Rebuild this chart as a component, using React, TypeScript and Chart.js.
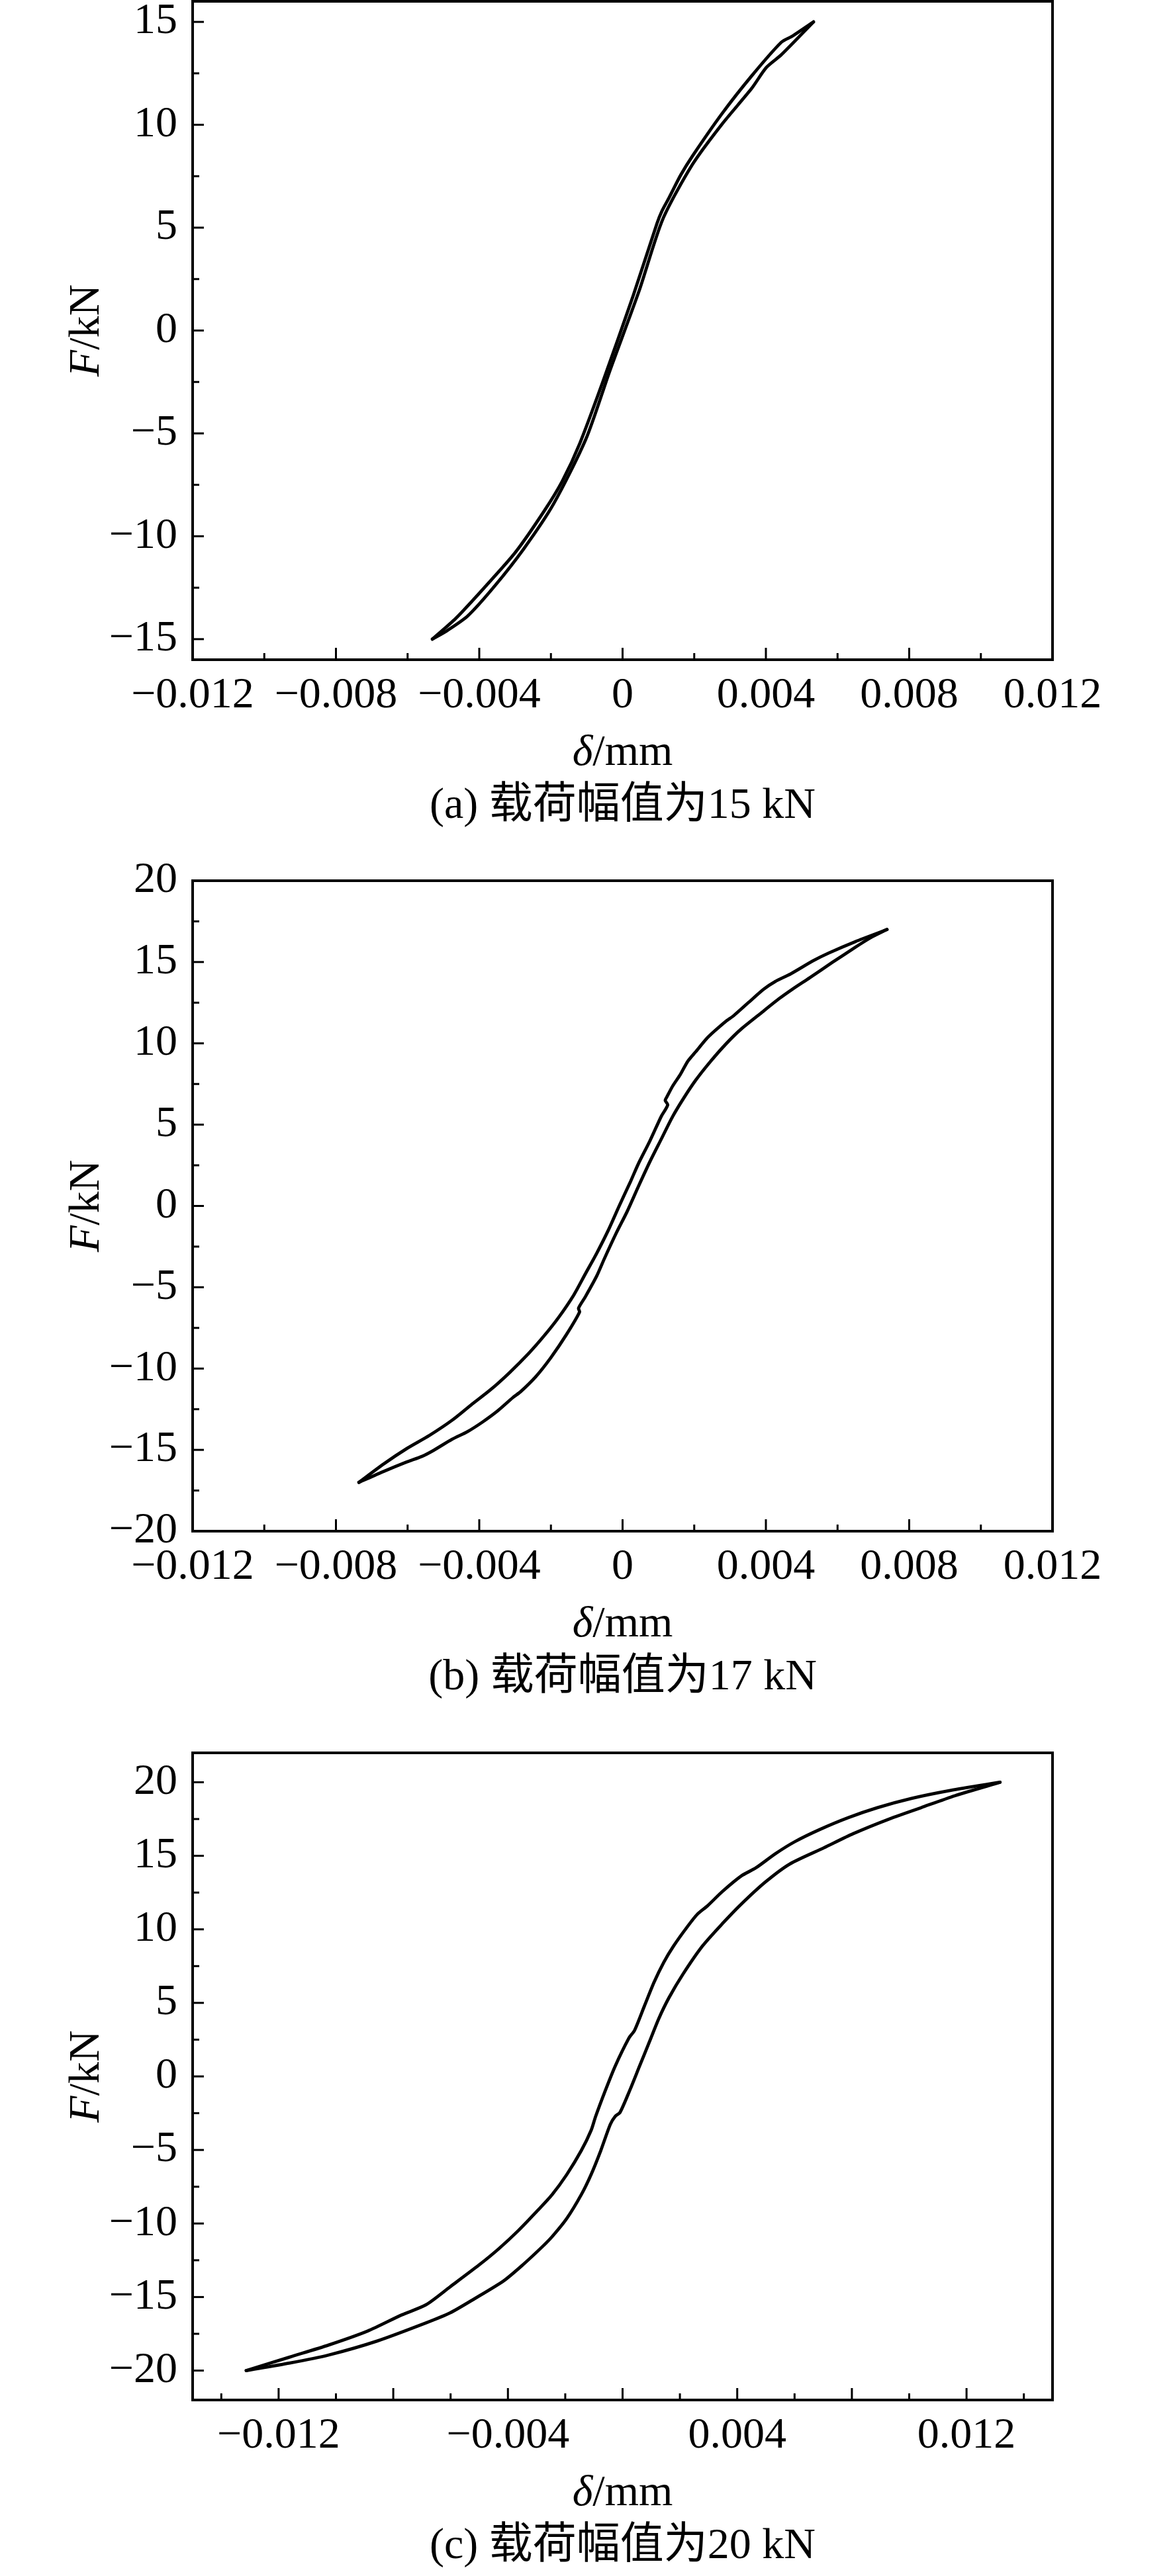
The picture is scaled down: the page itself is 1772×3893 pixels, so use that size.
import { useEffect, useRef } from "react"
import { Chart, registerables, type Plugin } from "chart.js"

Chart.register(...registerables)

const FONT = '"Liberation Serif", "Times New Roman", "Noto Sans CJK SC", serif'

// (a) 载荷幅值为15 kN — 卸载支（上）与加载支（下）
const aUnloadX = [0.00533, 0.00475, 0.00443, 0.00360, 0.00277, 0.00195, 0.00162, 0.00129, 0.00110, 0.00096, 0.00030, -0.00053, -0.00119, -0.00168, -0.00218, -0.00300, -0.00383, -0.00465, -0.00531]
const aUnloadF = [15.0, 14.32, 14.01, 12.37, 10.53, 8.48, 7.55, 6.43, 5.81, 5.20, 1.71, -2.39, -5.47, -7.31, -8.75, -10.80, -12.44, -13.98, -15.0]
const aLoadX = [-0.00531, -0.00490, -0.00432, -0.00358, -0.00275, -0.00193, -0.00102, -0.00036, 0.00046, 0.00112, 0.00195, 0.00277, 0.00360, 0.00401, 0.00443, 0.00533]
const aLoadF = [-15.0, -14.59, -13.87, -12.44, -10.59, -8.44, -5.26, -1.98, 1.92, 5.40, 8.07, 10.02, 11.76, 12.78, 13.40, 15.0]

// (b) 17 kN
const bUnloadX = [0.00738, 0.00649, 0.00575, 0.00532, 0.00469, 0.00426, 0.00394, 0.00352, 0.00310, 0.00288, 0.00257, 0.00235, 0.00204, 0.00182, 0.00161, 0.00140, 0.00124, 0.00119, 0.00126, 0.00108, 0.00076, 0.00044, 0.00023, -0.00009, -0.00040, -0.00072, -0.00104, -0.00136, -0.00179, -0.00221, -0.00263, -0.00316, -0.00369, -0.00423, -0.00476, -0.00539, -0.00603, -0.00667, -0.00736]
const bUnloadF = [17.0, 16.25, 15.55, 15.08, 14.27, 13.80, 13.33, 12.52, 11.70, 11.35, 10.76, 10.30, 9.48, 8.90, 8.08, 7.38, 6.72, 6.49, 6.21, 5.51, 3.99, 2.59, 1.54, 0.02, -1.50, -2.90, -4.18, -5.47, -6.87, -8.04, -9.09, -10.26, -11.31, -12.24, -13.18, -14.11, -14.93, -15.87, -17.0]
const bLoadX = [-0.00736, -0.00667, -0.00603, -0.00560, -0.00529, -0.00476, -0.00433, -0.00391, -0.00348, -0.00306, -0.00285, -0.00242, -0.00200, -0.00157, -0.00120, -0.00123, -0.00104, -0.00072, -0.00051, -0.00019, 0.00013, 0.00044, 0.00076, 0.00108, 0.00140, 0.00172, 0.00204, 0.00246, 0.00288, 0.00331, 0.00384, 0.00437, 0.00474, 0.00522, 0.00585, 0.00649, 0.00692, 0.00738]
const bLoadF = [-17.0, -16.33, -15.75, -15.40, -15.05, -14.35, -13.88, -13.29, -12.59, -11.78, -11.43, -10.49, -9.32, -7.92, -6.52, -6.29, -5.59, -4.30, -3.25, -1.73, -0.33, 1.19, 2.71, 4.11, 5.51, 6.68, 7.73, 8.90, 9.95, 10.88, 11.82, 12.75, 13.33, 14.03, 14.97, 15.90, 16.49, 17.0]

// (c) 20 kN
const cUnloadX = [0.01317, 0.01143, 0.01008, 0.00889, 0.00787, 0.00686, 0.00601, 0.00533, 0.00465, 0.00415, 0.00347, 0.00296, 0.00262, 0.00228, 0.00178, 0.00144, 0.00110, 0.00076, 0.00042, 0.00022, -0.00026, -0.00060, -0.00094, -0.00110, -0.00144, -0.00195, -0.00246, -0.00297, -0.00364, -0.00432, -0.00500, -0.00602, -0.00686, -0.00771, -0.00889, -0.01025, -0.01161, -0.01313]
const cUnloadF = [20.0, 19.44, 18.90, 18.27, 17.59, 16.77, 15.96, 15.14, 14.18, 13.64, 12.55, 11.59, 11.05, 10.23, 8.87, 7.77, 6.41, 4.78, 3.14, 2.60, 0.69, -0.95, -2.72, -3.68, -5.04, -6.68, -8.04, -9.13, -10.49, -11.72, -12.81, -14.31, -15.53, -16.22, -17.31, -18.26, -19.08, -20.0]
const cLoadX = [-0.01313, -0.01161, -0.01025, -0.00856, -0.00686, -0.00602, -0.00517, -0.00415, -0.00348, -0.00280, -0.00246, -0.00195, -0.00144, -0.00110, -0.00076, -0.00043, -0.00026, -0.00009, 0.00025, 0.00059, 0.00093, 0.00127, 0.00161, 0.00211, 0.00279, 0.00347, 0.00415, 0.00499, 0.00584, 0.00703, 0.00804, 0.00923, 0.01041, 0.01160, 0.01317]
const cLoadF = [-20.0, -19.49, -18.94, -17.99, -16.76, -16.08, -15.12, -13.90, -12.81, -11.58, -10.90, -9.67, -8.04, -6.68, -5.04, -3.27, -2.72, -2.45, -0.95, 0.69, 2.32, 3.96, 5.32, 6.96, 8.87, 10.36, 11.73, 13.23, 14.45, 15.55, 16.50, 17.45, 18.27, 19.09, 20.0]

// 坐标轴刻度
const xMajorAB = [-0.012, -0.008, -0.004, 0, 0.004, 0.008, 0.012]
const xMinorAB = [-0.010, -0.006, -0.002, 0.002, 0.006, 0.010]
const xLabelsC = [-0.012, -0.004, 0.004, 0.012]
const xMinorC = [-0.014, -0.010, -0.006, -0.002, 0.002, 0.006, 0.010, 0.014]
const yMajorA = [-15, -10, -5, 0, 5, 10, 15]
const yMinorA = [-12.5, -7.5, -2.5, 2.5, 7.5, 12.5]
const yMajorBC = [-20, -15, -10, -5, 0, 5, 10, 15, 20]
const yMinorBC = [-17.5, -12.5, -7.5, -2.5, 2.5, 7.5, 12.5, 17.5]

type Branch = { x: number[]; F: number[] }
type Panel = {
  caption: string
  top: number
  height: number
  areaTop: number
  areaBottom: number
  xRange: [number, number]
  yRange: [number, number]
  xMajor: number[]
  xMinor: number[]
  xLabels: number[]
  yMajor: number[]
  yMinor: number[]
  branches: Branch[]
}

const PANELS: Panel[] = [
  {
    caption: '(a) 载荷幅值为15 kN', top: 0, height: 1300, areaTop: 2, areaBottom: 997,
    xRange: [-0.012, 0.012], yRange: [-16, 16],
    xMajor: xMajorAB, xMinor: xMinorAB, xLabels: xMajorAB, yMajor: yMajorA, yMinor: yMinorA,
    branches: [{ x: aUnloadX, F: aUnloadF }, { x: aLoadX, F: aLoadF }],
  },
  {
    caption: '(b) 载荷幅值为17 kN', top: 1300, height: 1300, areaTop: 1331, areaBottom: 2314,
    xRange: [-0.012, 0.012], yRange: [-20, 20],
    xMajor: xMajorAB, xMinor: xMinorAB, xLabels: xMajorAB, yMajor: yMajorBC, yMinor: yMinorBC,
    branches: [{ x: bUnloadX, F: bUnloadF }, { x: bLoadX, F: bLoadF }],
  },
  {
    caption: '(c) 载荷幅值为20 kN', top: 2600, height: 1293, areaTop: 2649, areaBottom: 3627,
    xRange: [-0.015, 0.015], yRange: [-22, 22],
    xMajor: xMajorAB, xMinor: xMinorC, xLabels: xLabelsC, yMajor: yMajorBC, yMinor: yMinorBC,
    branches: [{ x: cUnloadX, F: cUnloadF }, { x: cLoadX, F: cLoadF }],
  },
]

const fmtX = (v: number) => (v === 0 ? '0' : (v < 0 ? '\u2212' : '') + Math.abs(v).toFixed(3))
const fmtY = (v: number) => (v < 0 ? '\u2212' + Math.abs(v) : String(v))

// 斜体 + 正体混排，居中
function drawMixed(ctx: CanvasRenderingContext2D, parts: [string, boolean][], cx: number, cy: number, size: number) {
  const fonts = parts.map(([, it]) => `${it ? 'italic ' : ''}${size}px ${FONT}`)
  const widths = parts.map(([t], i) => { ctx.font = fonts[i]; return ctx.measureText(t).width })
  let x = cx - widths.reduce((a, b) => a + b, 0) / 2
  ctx.textAlign = 'left'
  parts.forEach(([t], i) => { ctx.font = fonts[i]; ctx.fillText(t, x, cy); x += widths[i] })
}

function HysteresisPanel({ p }: { p: Panel }) {
  const canvasRef = useRef<HTMLCanvasElement>(null)
  const chartRef = useRef<Chart | null>(null)

  useEffect(() => {
    if (!canvasRef.current) return
    chartRef.current?.destroy()

    const axesPlugin: Plugin = {
      id: 'originAxes',
      afterDraw(chart) {
        const ctx = chart.ctx
        const { left, right, top, bottom } = chart.chartArea
        const xs = chart.scales.x
        const ys = chart.scales.y
        ctx.save()
        ctx.strokeStyle = '#000'
        ctx.fillStyle = '#000'
        ctx.lineWidth = 3
        const tickX = (v: number, len: number) => {
          const px = xs.getPixelForValue(v)
          ctx.beginPath(); ctx.moveTo(px, bottom); ctx.lineTo(px, bottom - len); ctx.stroke()
        }
        const tickY = (v: number, len: number) => {
          const py = ys.getPixelForValue(v)
          ctx.beginPath(); ctx.moveTo(left, py); ctx.lineTo(left + len, py); ctx.stroke()
        }
        p.xMajor.forEach(v => tickX(v, 18))
        p.xMinor.forEach(v => tickX(v, 10))
        p.yMajor.forEach(v => tickY(v, 17))
        p.yMinor.forEach(v => tickY(v, 10))
        ctx.lineWidth = 4
        ctx.strokeRect(left, top, right - left, bottom - top)

        ctx.font = `66px ${FONT}`
        ctx.textBaseline = 'middle'
        ctx.textAlign = 'right'
        p.yMajor.forEach(v => ctx.fillText(fmtY(v), left - 23, ys.getPixelForValue(v)))
        ctx.textAlign = 'center'
        p.xLabels.forEach(v => ctx.fillText(fmtX(v), xs.getPixelForValue(v), bottom + 55))

        drawMixed(ctx, [['δ', true], ['/mm', false]], (left + right) / 2, bottom + 142, 66)
        ctx.save()
        ctx.translate(132, (top + bottom) / 2)
        ctx.rotate(-Math.PI / 2)
        drawMixed(ctx, [['F', true], ['/kN', false]], 0, 0, 66)
        ctx.restore()

        ctx.font = `66px ${FONT}`
        ctx.textAlign = 'center'
        ctx.fillText(p.caption, (left + right) / 2, bottom + 222)
        ctx.restore()
      },
    }

    chartRef.current = new Chart(canvasRef.current, {
      type: 'scatter',
      data: {
        datasets: p.branches.map(b => ({
          data: b.x.map((x, i) => ({ x, y: b.F[i] })),
          showLine: true,
          borderColor: '#000',
          backgroundColor: '#000',
          borderWidth: 4.8,
          borderJoinStyle: 'round' as const,
          borderCapStyle: 'round' as const,
          pointRadius: 0,
          tension: 0.25,
          fill: false,
        })),
      },
      options: {
        responsive: false,
        animation: false,
        devicePixelRatio: 1,
        layout: { padding: { top: p.areaTop - p.top, right: 182, bottom: 0, left: 0 } },
        plugins: { legend: { display: false }, tooltip: { enabled: false } },
        scales: {
          x: {
            type: 'linear', min: p.xRange[0], max: p.xRange[1],
            grid: { display: false }, border: { display: false }, ticks: { display: false },
            afterFit: (s) => { s.height = p.height - (p.areaBottom - p.top) },
          },
          y: {
            type: 'linear', min: p.yRange[0], max: p.yRange[1],
            grid: { display: false }, border: { display: false }, ticks: { display: false },
            afterFit: (s) => { s.width = 291 },
          },
        },
      },
      plugins: [axesPlugin],
    })
    return () => { chartRef.current?.destroy() }
  }, [p])

  return (
    <canvas
      ref={canvasRef}
      width={1772}
      height={p.height}
      style={{ position: 'absolute', left: 0, top: p.top, width: 1772, height: p.height }}
    />
  )
}

export default function App() {
  return (
    <div style={{ position: 'absolute', left: 0, top: 0, width: 1772, height: 3893, background: '#fff' }}>
      {PANELS.map((p, i) => <HysteresisPanel key={i} p={p} />)}
    </div>
  )
}
